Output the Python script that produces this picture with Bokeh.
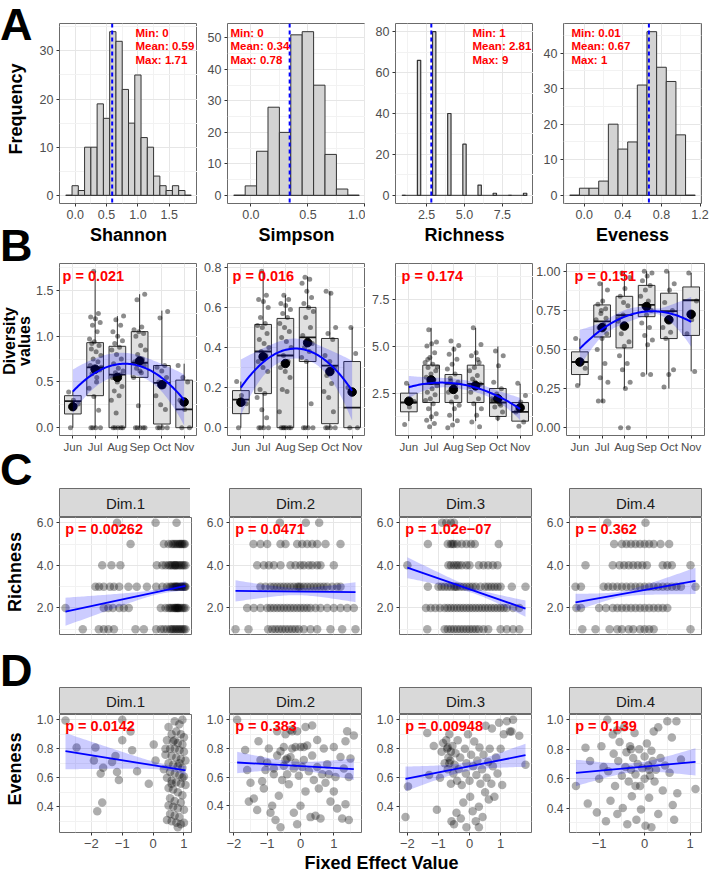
import numpy as np
from bokeh.plotting import figure
from bokeh.layouts import row, column
from bokeh.models import Range1d, Label, FixedTicker, Span, Div
from bokeh.embed import file_html
from bokeh.resources import INLINE

FONT = "Liberation Sans"
RED = "#ff0000"
BLUE = "#0000ff"
EDGE = "#6b6b6b"
INK = "#333333"
GRID_MAJOR = "#e6e6e6"
GRID_MINOR = "#f2f2f2"
TICK_TEXT = "#4d4d4d"

# ---------------------------------------------------------------------------
# A - histograms of the four diversity indices
# ---------------------------------------------------------------------------
hist_titles = ["Shannon", "Simpson", "Richness", "Eveness"]

shannon_mids = [-0.1, 0.0, 0.1, 0.2, 0.3, 0.4, 0.5, 0.6, 0.7, 0.8, 0.9,
                1.0, 1.1, 1.2, 1.3, 1.4, 1.5, 1.6, 1.7, 1.8]
shannon_counts = [0, 2, 1, 10, 10, 19, 16, 34, 32, 22, 15, 25, 12, 10, 4, 2, 1, 2, 1, 0]

simpson_mids = [-0.1, 0.0, 0.1, 0.2, 0.3, 0.4, 0.5, 0.6, 0.7, 0.8, 0.9]
simpson_counts = [0, 3, 14, 28, 20, 51, 52, 35, 13, 2, 0]

richness_mids = [1, 2, 3, 4, 5, 6, 7, 8, 9]
richness_counts = [0, 66, 80, 40, 25, 5, 1, 0, 1]

eveness_mids = [-0.1, 0.0, 0.1, 0.2, 0.3, 0.4, 0.5, 0.6, 0.7, 0.8, 0.9, 1.0, 1.1]
eveness_counts = [0, 2, 2, 4, 20, 13, 15, 31, 46, 36, 32, 17, 0]

hist_binwidth = [0.1, 0.1, 0.22, 0.1]
stat_min = [0, 0, 1, 0.01]
stat_mean = [0.59, 0.34, 2.81, 0.67]
stat_max = [1.71, 0.78, 9, 1]

hist_xticks = [[0.0, 0.5, 1.0, 1.5], [0.0, 0.5, 1.0], [2.5, 5.0, 7.5], [0.0, 0.4, 0.8, 1.2]]
hist_yticks = [[0, 10, 20, 30], [0, 10, 20, 30, 40, 50], [0, 20, 40, 60, 80], [0, 10, 20, 30, 40]]

# ---------------------------------------------------------------------------
# B - monthly diversity values (box summaries, sample values, quadratic fit)
# ---------------------------------------------------------------------------
months = ["Jun", "Jul", "Aug", "Sep", "Oct", "Nov"]
div_p = ["p = 0.021", "p = 0.016", "p = 0.174", "p = 0.151"]
div_yrange = [(-0.0855, 1.7955), (-0.039, 0.819), (0.23, 9.45), (-0.05, 1.05)]
div_yticks = [[0, 0.5, 1.0, 1.5], [0, 0.2, 0.4, 0.6, 0.8], [2.5, 5.0, 7.5], [0, 0.25, 0.5, 0.75, 1.0]]
div_ydigits = [1, 1, 1, 2]

shannon_box = dict(lo=[0, 0, 0, 0, 0, 0],
                   q1=[0.15, 0.35, 0.0, 0.55, 0.04, 0.0],
                   med=[0.29, 0.66, 0.58, 0.71, 0.49, 0.20],
                   q3=[0.35, 0.93, 0.89, 1.05, 0.68, 0.52],
                   hi=[0.40, 1.71, 1.22, 1.46, 1.28, 0.70],
                   mean=[0.23, 0.64, 0.55, 0.73, 0.47, 0.28])
simpson_box = dict(lo=[0, 0, 0, 0, 0, 0],
                   q1=[0.07, 0.17, 0.0, 0.33, 0.02, 0.0],
                   med=[0.14, 0.38, 0.36, 0.45, 0.31, 0.10],
                   q3=[0.185, 0.515, 0.545, 0.60, 0.445, 0.33],
                   hi=[0.23, 0.78, 0.66, 0.755, 0.68, 0.50],
                   mean=[0.127, 0.354, 0.32, 0.424, 0.28, 0.178])
richness_box = dict(lo=[1, 1, 1, 1, 1, 1],
                    q1=[1.5, 2, 2, 2, 1.25, 1],
                    med=[2, 3, 3, 3, 2, 1.5],
                    q3=[2.5, 4, 3.5, 4, 2.75, 2],
                    hi=[3, 6, 5, 6, 5, 3],
                    mean=[2.07, 3.21, 2.7, 2.9, 2.2, 1.72])
eveness_box = dict(lo=[0.27, 0.16, 0.25, 0.34, 0.25, 0.36],
                   q1=[0.34, 0.58, 0.51, 0.71, 0.57, 0.59],
                   med=[0.42, 0.68, 0.72, 0.785, 0.745, 0.815],
                   q3=[0.485, 0.785, 0.84, 0.91, 0.86, 0.90],
                   hi=[0.57, 0.93, 1.0, 1.0, 1.0, 0.99],
                   mean=[0.42, 0.64, 0.65, 0.775, 0.69, 0.725])

shannon_fit = [0.40, 0.61, 0.66, 0.67, 0.59, 0.28]
shannon_ci = [0.24, 0.16, 0.12, 0.12, 0.15, 0.28]
simpson_fit = [0.20, 0.33, 0.38, 0.385, 0.325, 0.18]
simpson_ci = [0.14, 0.07, 0.05, 0.05, 0.07, 0.15]
richness_fit = [2.82, 3.03, 3.05, 2.82, 2.29, 1.67]
richness_ci = [0.6, 0.3, 0.25, 0.25, 0.3, 0.6]
eveness_fit = [0.50, 0.64, 0.71, 0.737, 0.73, 0.68]
eveness_ci = [0.12, 0.05, 0.035, 0.035, 0.045, 0.16]

shannon_obs = [
    [0.0, 0.26, 0.30, 0.39],
    [0, 0, 0, 0, 0.19, 0.34, 0.43, 0.55, 0.59, 0.63, 0.64, 0.68, 0.72, 0.75, 0.79, 0.83, 0.86,
     0.90, 0.94, 0.97, 1.05, 1.12, 1.15, 1.19, 1.21, 1.25, 1.71, 0.66, 0.50, 0.92],
    [0, 0, 0, 0, 0, 0.16, 0.30, 0.35, 0.40, 0.45, 0.50, 0.55, 0.58, 0.60, 0.62, 0.65, 0.70,
     0.75, 0.80, 0.85, 0.88, 0.92, 0.95, 1.0, 1.05, 1.12, 1.18, 1.22],
    [0, 0, 0, 0, 0, 0.24, 0.55, 0.60, 0.65, 0.68, 0.70, 0.72, 0.75, 0.80, 0.85, 0.90, 1.0,
     1.03, 1.05, 1.07, 1.10, 1.40, 1.46, 0.62],
    [0, 0, 0, 0, 0.20, 0.25, 0.35, 0.45, 0.50, 0.55, 0.62, 0.66, 0.68, 1.20, 1.27],
    [0, 0, 0.20, 0.30, 0.50, 0.55, 0.68],
]
simpson_obs = [
    [0.0, 0.12, 0.16, 0.23],
    [0, 0, 0, 0, 0.05, 0.09, 0.15, 0.17, 0.19, 0.28, 0.30, 0.33, 0.36, 0.38, 0.40, 0.42, 0.44,
     0.47, 0.50, 0.51, 0.52, 0.55, 0.60, 0.63, 0.64, 0.66, 0.78],
    [0, 0, 0, 0, 0, 0, 0.08, 0.18, 0.19, 0.25, 0.28, 0.30, 0.33, 0.36, 0.40, 0.43, 0.45, 0.48,
     0.50, 0.52, 0.55, 0.57, 0.59, 0.61, 0.62, 0.64, 0.66],
    [0, 0, 0, 0, 0.12, 0.33, 0.35, 0.38, 0.40, 0.42, 0.44, 0.46, 0.50, 0.55, 0.58, 0.60, 0.62,
     0.65, 0.68, 0.72, 0.74, 0.75],
    [0, 0, 0, 0, 0.08, 0.15, 0.18, 0.22, 0.26, 0.30, 0.33, 0.36, 0.44, 0.47, 0.50, 0.67, 0.68],
    [0, 0, 0.18, 0.20, 0.37, 0.50],
]
richness_obs = [
    [3.03, 2.05, 1.76, 0.82],
    [5.9, 5.24, 5.15, 5.03, 4.67, 4.41, 4.14, 4.05, 3.88, 3.7, 3.52, 3.35, 3.22, 3.08, 2.9, 2.73,
     2.55, 2.41, 2.2, 2.1, 1.93, 1.67, 1.4, 1.23, 1.05, 0.87, 0.7, 3.9, 3.1, 4.3],
    [5.29, 5.06, 4.85, 4.58, 4.32, 4.05, 3.79, 3.52, 3.3, 3.08, 2.82, 2.55, 2.29, 2.02, 1.85,
     1.67, 1.32, 1.02, 0.79, 0.65, 2.9, 3.15],
    [6.0, 5.11, 4.67, 4.5, 4.14, 3.88, 3.7, 3.44, 3.26, 2.99, 2.76, 2.55, 2.2, 1.93, 1.67, 1.32,
     0.96, 0.7, 3.1, 2.85, 4.3],
    [4.76, 4.5, 3.97, 3.08, 2.73, 2.46, 2.2, 1.93, 1.76, 1.49, 1.17, 2.1, 1.85],
    [3.03, 2.38, 2.02, 1.49, 0.96, 0.73],
]
eveness_obs = [
    [0.27, 0.38, 0.42, 0.57],
    [0.92, 0.88, 0.81, 0.79, 0.76, 0.73, 0.69, 0.66, 0.64, 0.60, 0.57, 0.50, 0.41, 0.32, 0.29,
     0.17, 0.17, 0.70, 0.75],
    [0.99, 0.96, 0.89, 0.84, 0.78, 0.72, 0.68, 0.65, 0.60, 0.55, 0.52, 0.46, 0.41, 0.37, 0.29,
     0.25, 0.0, 0.0, 0.80, 0.70],
    [1.0, 0.99, 0.97, 0.94, 0.91, 0.88, 0.84, 0.81, 0.78, 0.75, 0.72, 0.67, 0.64, 0.59, 0.56,
     0.53, 0.34, 0.34],
    [1.0, 0.92, 0.88, 0.80, 0.75, 0.69, 0.64, 0.61, 0.57, 0.37, 0.34, 0.26],
    [0.99, 0.81, 0.69, 0.60, 0.36],
]

# ---------------------------------------------------------------------------
# C / D - richness and eveness against the fixed-effect dimensions
# ---------------------------------------------------------------------------
dim_names = ["Dim.1", "Dim.2", "Dim.3", "Dim.4"]

rich_dim1 = {
    6: [-1.17, 0.08, 0.76],
    5: [-0.73, 0.35, 0.5, 0.6, 0.65, 0.7, 0.75, 0.8, 0.85, 0.88, 0.92, 0.95, 1.0, 1.03],
    4: [-1.65, -1.35, -1.06, 0.12, 0.3, 0.4, 0.5, 0.55, 0.6, 0.65, 0.7, 0.72, 0.75, 0.8, 0.85,
        0.9, 0.95, 1.0, 1.05],
    3: [-1.87, -1.75, -1.6, -1.4, -1.27, -1.1, -0.8, -0.53, -0.2, 0.1, 0.3, 0.45, 0.55, 0.6,
        0.65, 0.7, 0.72, 0.75, 0.78, 0.8, 0.85, 0.9, 0.92, 0.95, 1.0, 1.03, 1.05],
    2: [-2.84, -1.6, -1.45, -1.3, -1.1, -0.95, -0.79, 0.25, 0.4, 0.5, 0.55, 0.6, 0.65, 0.7,
        0.72, 0.75, 0.78, 0.8, 0.82, 0.85, 0.9, 0.95, 1.0, 1.05],
    1: [-2.28, -1.76, -1.6, -1.45, -1.27, -0.57, -0.3, 0.1, 0.25, 0.35, 0.45, 0.55, 0.6, 0.65,
        0.7, 0.75, 0.8, 0.85, 0.9, 0.95, 1.0, 1.05],
}
rich_dim2 = {
    6: [-0.62, 0.16, 0.56],
    5: [-1.41, -1.2, -1.0, -0.6, -0.45, -0.1, 0.05, 0.2, 0.35, 0.5, 0.75, 1.2],
    4: [-1.3, -1.1, -0.95, -0.8, -0.6, -0.3, -0.15, 0.0, 0.1, 0.25, 0.35, 0.5, 0.6, 1.0],
    3: [-1.2, -1.05, -0.9, -0.8, -0.7, -0.6, -0.5, -0.4, -0.3, -0.2, -0.1, -0.05, 0.0, 0.1,
        0.2, 0.3, 0.4, 0.5, 0.6, 0.7, 0.8, 0.95, 1.1, 1.2],
    2: [-1.6, -1.4, -1.2, -1.0, -0.9, -0.8, -0.7, -0.6, -0.5, -0.4, -0.3, -0.2, -0.1, 0.0, 0.1,
        0.2, 0.3, 0.45, 0.6, 0.8, 1.0, 1.2, 1.4, 1.6],
    1: [-1.95, -1.56, -0.97, -0.85, -0.75, -0.65, -0.55, -0.45, -0.35, -0.25, -0.15, -0.05,
        0.1, 0.3, 0.5, 0.9, 1.25, 1.65],
}
rich_dim3 = {
    6: [-0.88, -0.75, -0.6, -0.5],
    5: [-1.34, -0.7, -0.6, -0.55, -0.5, -0.4, -0.25, -0.1, 0.05, 0.17, 0.94],
    4: [-2.0, -0.68, -0.6, -0.5, -0.42, -0.35, -0.25, -0.1, 0.0, 0.3, 0.45, 0.6, 0.75, 0.9],
    3: [-1.34, -1.0, -0.9, -0.8, -0.7, -0.6, -0.5, -0.45, -0.4, -0.3, -0.2, -0.1, 0.0, 0.1,
        0.2, 0.35, 0.5, 0.6, 0.7, 0.8, 0.9, 1.0, 1.36, 1.8],
    2: [-1.4, -1.25, -1.1, -0.95, -0.8, -0.7, -0.6, -0.5, -0.4, -0.3, -0.2, -0.1, 0.0, 0.1,
        0.2, 0.3, 0.4, 0.5, 0.6, 0.7, 0.8, 0.9, 1.0, 1.1, 1.2, 1.4, 1.6],
    1: [-1.36, -0.8, -0.7, -0.6, -0.5, -0.4, -0.3, -0.2, -0.1, 0.0, 0.1, 0.2, 0.3, 0.45, 0.6,
        1.0, 1.2, 1.4, 1.6],
}
rich_dim4 = {
    6: [-0.82, 0.02],
    5: [-0.67, -0.5, -0.4, -0.3, -0.2, -0.1, 0.0, 0.1, 0.2, 0.35, 0.54],
    4: [-1.3, -0.7, -0.55, -0.45, -0.35, -0.25, -0.15, -0.05, 0.05, 0.4, 0.5, 0.6, 1.01],
    3: [-1.52, -1.4, -0.9, -0.8, -0.7, -0.6, -0.5, -0.4, -0.3, -0.2, -0.1, 0.0, 0.1, 0.2, 0.3,
        0.4, 0.5, 0.6, 0.7, 0.8, 1.12],
    2: [-1.5, -1.4, -1.0, -0.85, -0.7, -0.6, -0.5, -0.4, -0.3, -0.2, -0.1, 0.0, 0.1, 0.2, 0.3,
        0.4, 0.5],
    1: [-1.37, -1.08, -0.77, -0.6, -0.5, -0.35, -0.25, -0.1, 0.0, 0.1, 0.2, 1.01],
}

even_dim1 = [(-2.84, 0.995), (-2.48, 0.81), (-1.87, 0.81), (-1.92, 0.72), (-1.62, 0.67),
             (-1.70, 0.63), (-1.81, 0.37), (-1.65, 0.43), (-1.33, 0.71), (-1.22, 0.75),
             (-1.17, 0.64), (-1.11, 0.585), (-1.0, 1.0), (-1.0, 0.86), (-0.73, 0.92),
             (-0.68, 0.79), (-0.52, 0.645), (-0.14, 0.56), (0.02, 0.83), (0.08, 0.72),
             (0.5, 0.95), (0.7, 0.99), (0.85, 0.97), (0.95, 1.0), (0.6, 0.9), (0.75, 0.92),
             (0.9, 0.9), (1.0, 0.88), (0.45, 0.86), (0.65, 0.85), (0.8, 0.84), (0.95, 0.83),
             (0.55, 0.8), (0.7, 0.8), (0.85, 0.79), (1.0, 0.78), (0.4, 0.76), (0.6, 0.75),
             (0.75, 0.74), (0.9, 0.73), (1.05, 0.72), (0.5, 0.7), (0.65, 0.69), (0.8, 0.68),
             (0.95, 0.67), (0.35, 0.66), (0.55, 0.64), (0.7, 0.63), (0.85, 0.62), (1.0, 0.61),
             (0.45, 0.6), (0.6, 0.58), (0.75, 0.57), (0.9, 0.56), (1.05, 0.55), (0.5, 0.53),
             (0.65, 0.52), (0.8, 0.5), (0.95, 0.48), (0.55, 0.46), (0.7, 0.44), (0.9, 0.43),
             (0.5, 0.41), (0.65, 0.4), (0.8, 0.39), (1.0, 0.38), (0.55, 0.35), (0.7, 0.34),
             (0.85, 0.33), (0.45, 0.31), (0.6, 0.3), (0.75, 0.29), (0.9, 0.28), (0.8, 0.26),
             (1.0, 0.29), (0.6, 0.56), (0.95, 0.6), (0.85, 0.7), (0.7, 0.86), (0.4, 0.8)]
even_dim2 = [(-1.9, 1.0), (-1.66, 0.79), (-1.6, 0.65), (-1.5, 0.56), (-1.55, 0.43),
             (-1.4, 0.45), (-1.3, 0.37), (-1.26, 0.85), (-1.2, 0.72), (-1.15, 0.57),
             (-1.1, 0.52), (-1.05, 0.65), (-1.0, 0.7), (-0.95, 0.8), (-0.9, 0.35), (-0.85, 0.4),
             (-0.8, 0.62), (-0.75, 0.3), (-0.7, 0.75), (-0.7, 0.92), (-0.65, 0.47), (-0.6, 0.78),
             (-0.55, 0.58), (-0.5, 0.68), (-0.5, 0.81), (-0.45, 0.9), (-0.4, 0.62), (-0.4, 0.73),
             (-0.35, 0.55), (-0.3, 0.74), (-0.3, 0.93), (-0.25, 0.8), (-0.2, 0.66), (-0.2, 0.35),
             (-0.15, 0.7), (-0.1, 0.92), (-0.1, 0.27), (-0.05, 0.61), (0.0, 0.81), (0.0, 0.4),
             (0.05, 0.67), (0.1, 0.72), (0.15, 0.95), (0.15, 0.5), (0.2, 0.82), (0.25, 0.64),
             (0.3, 0.32), (0.35, 0.75), (0.4, 0.58), (0.45, 0.33), (0.5, 0.86), (0.5, 0.67),
             (0.55, 0.52), (0.6, 0.31), (0.65, 0.62), (0.7, 0.8), (0.75, 0.56), (0.8, 0.69),
             (0.85, 0.62), (0.9, 0.43), (1.0, 0.81), (1.0, 0.5), (1.05, 0.6), (1.1, 0.38),
             (1.2, 0.74), (1.25, 0.31), (1.3, 0.66), (1.35, 0.85), (1.4, 0.92), (1.45, 0.6),
             (1.5, 0.73), (1.6, 0.89), (1.45, 0.3), (1.35, 0.41), (0.35, 0.96), (-0.6, 0.25),
             (-0.25, 0.92), (-0.15, 0.81), (0.1, 0.81), (-0.45, 0.72), (-0.8, 0.66)]
even_dim3 = [(-2.06, 0.33), (-1.98, 0.54), (-1.36, 0.91), (-1.3, 0.62), (-1.15, 0.82),
             (-1.05, 0.38), (-0.95, 0.6), (-0.9, 0.78), (-0.85, 0.84), (-0.8, 0.7),
             (-0.75, 0.86), (-0.72, 0.8), (-0.7, 0.66), (-0.68, 0.74), (-0.65, 0.9),
             (-0.62, 0.72), (-0.6, 0.56), (-0.58, 0.3), (-0.55, 0.82), (-0.52, 0.63),
             (-0.5, 0.28), (-0.48, 0.69), (-0.45, 0.77), (-0.42, 0.36), (-0.4, 0.58),
             (-0.38, 0.86), (-0.35, 0.66), (-0.3, 0.74), (-0.28, 0.32), (-0.25, 0.55),
             (-0.2, 0.43), (-0.15, 0.8), (-0.12, 0.63), (-0.1, 0.7), (-0.05, 0.9), (0.0, 0.58),
             (0.02, 0.47), (0.05, 0.76), (0.1, 0.37), (0.12, 0.68), (0.15, 0.85), (0.2, 0.3),
             (0.22, 0.62), (0.25, 0.72), (0.3, 0.4), (0.32, 0.81), (0.35, 0.56), (0.4, 0.66),
             (0.42, 0.33), (0.45, 0.76), (0.5, 0.5), (0.52, 0.96), (0.55, 0.6), (0.6, 0.71),
             (0.62, 0.45), (0.65, 0.8), (0.7, 0.56), (0.72, 0.94), (0.75, 0.68), (0.8, 0.47),
             (0.85, 0.74), (0.9, 0.63), (0.95, 0.98), (1.0, 0.8), (1.05, 0.55), (1.1, 0.9),
             (1.2, 0.99), (1.3, 0.92), (1.35, 0.92), (1.4, 1.0), (1.6, 0.89), (1.8, 0.69),
             (-0.1, 0.26), (0.3, 0.26), (-0.7, 0.81), (-0.65, 0.7), (-0.6, 0.78)]
even_dim4 = [(-1.51, 0.55), (-1.3, 0.81), (-1.25, 0.43), (-1.2, 0.72), (-1.05, 0.37),
             (-1.0, 0.6), (-0.95, 0.82), (-0.9, 0.68), (-0.85, 0.31), (-0.82, 1.0), (-0.8, 0.65),
             (-0.75, 0.45), (-0.7, 0.9), (-0.68, 0.77), (-0.65, 0.55), (-0.6, 0.36),
             (-0.58, 0.72), (-0.55, 0.85), (-0.5, 0.62), (-0.48, 0.4), (-0.45, 0.95),
             (-0.42, 0.68), (-0.4, 0.78), (-0.38, 0.29), (-0.35, 0.58), (-0.32, 0.82),
             (-0.3, 0.66), (-0.28, 0.48), (-0.25, 0.74), (-0.22, 0.91), (-0.2, 0.63),
             (-0.18, 0.32), (-0.15, 0.7), (-0.12, 0.8), (-0.1, 0.55), (-0.08, 0.39),
             (-0.05, 0.67), (0.0, 0.75), (0.0, 0.6), (0.02, 0.28), (0.05, 0.84), (0.08, 0.69),
             (0.1, 0.47), (0.12, 0.62), (0.15, 0.79), (0.18, 0.72), (0.2, 0.92), (0.22, 0.58),
             (0.25, 0.66), (0.3, 0.36), (0.35, 0.74), (0.4, 0.52), (0.45, 0.69), (0.5, 0.99),
             (0.55, 0.64), (0.6, 0.88), (0.62, 0.42), (0.65, 0.32), (0.7, 0.99), (0.72, 0.5),
             (0.8, 0.73), (1.12, 0.53), (0.3, 0.95), (-0.6, 0.93), (0.15, 0.27),
             (-0.3, 0.8), (-0.2, 0.55), (0.1, 0.66)]

# fitted value at the left / right end of each regression line
rich_fit_ends = [(1.82, 3.04), (2.80, 2.74), (3.89, 1.97), (2.26, 3.27)]
even_fit_ends = [(0.784, 0.651), (0.702, 0.655), (0.593, 0.756), (0.639, 0.714)]
# confidence half-width at the left end, at its narrowest, at the right end
rich_ci = [(0.66, 0.12, 0.22), (0.50, 0.17, 0.47), (0.49, 0.13, 0.38), (0.40, 0.13, 0.62)]
even_ci = [(0.125, 0.02, 0.03), (0.075, 0.03, 0.075), (0.085, 0.03, 0.08), (0.09, 0.03, 0.093)]
rich_p = ["p = 0.00262", "p = 0.0471", "p = 1.02e\u221207", "p = 0.362"]
even_p = ["p = 0.0142", "p = 0.383", "p = 0.00948", "p = 0.139"]
dim_xticks = [[-2, -1, 0, 1], [-2, -1, 0, 1], [-2, -1, 0, 1], [-1, 0, 1]]


# ---------------------------------------------------------------------------
# helpers
# ---------------------------------------------------------------------------
def panel(fw, fh, bl, br, bt, bb, xr, yr, axes=True):
    kw = {} if axes else dict(x_axis_location=None, y_axis_location=None)
    p = figure(frame_width=fw, frame_height=fh, min_border_left=bl, min_border_right=br,
               min_border_top=bt, min_border_bottom=bb, x_range=Range1d(*xr),
               y_range=Range1d(*yr), toolbar_location=None, tools="",
               output_backend="svg", title=None, **kw)
    p.outline_line_color = EDGE
    p.outline_line_width = 1
    p.border_fill_color = "white"
    p.background_fill_color = "white"
    if not axes:
        p.grid.visible = False
    return p


def gutter(w, h, items):
    """HTML strip down the left edge holding panel letters and rotated axis titles.
    items: (kind, x, y, text) with x/y in pixels from the strip's top-left."""
    parts = []
    for kind, x, y, text in items:
        if kind == "letter":
            # y is the text baseline
            parts.append(
                f"<div style='position:absolute;left:{x}px;top:{y - 40.7:.1f}px;"
                f"font-family:\"{FONT}\";font-weight:bold;font-size:45px;"
                f"line-height:normal;color:black;white-space:nowrap'>{text}</div>")
        else:
            size, lh = kind
            parts.append(
                f"<div style='position:absolute;left:{x}px;top:{y}px;"
                f"transform:translate(-50%,-50%) rotate(-90deg);"
                f"font-family:\"{FONT}\";font-weight:bold;font-size:{size}px;"
                f"line-height:{lh};color:black;white-space:nowrap;text-align:center'>"
                f"{text}</div>")
    html = (f"<div style='position:relative;width:{w}px;height:{h}px;overflow:hidden;"
            f"background:white'>" + "".join(parts) + "</div>")
    return Div(text=html, width=w, height=h, margin=(0, 0, 0, 0))


def minor_between(ticks, lo, hi):
    step = ticks[1] - ticks[0]
    cands = [ticks[0] - step / 2] + [t + step / 2 for t in ticks]
    return [m for m in cands if lo < m < hi]


def style_axis(p, dim, ticks, labels, minor=True, size="12.5px"):
    axis = p.xaxis[0] if dim == "x" else p.yaxis[0]
    grid = p.xgrid[0] if dim == "x" else p.ygrid[0]
    rng = p.x_range if dim == "x" else p.y_range
    mt = minor_between(ticks, rng.start, rng.end) if minor else []
    tk = FixedTicker(ticks=[float(t) for t in ticks], minor_ticks=mt)
    axis.ticker = tk
    grid.ticker = tk
    axis.major_label_overrides = {float(t): s for t, s in zip(ticks, labels)}
    axis.axis_line_color = None
    axis.major_tick_line_color = INK
    axis.major_tick_out = 3
    axis.major_tick_in = 0
    axis.minor_tick_line_color = None
    axis.major_label_standoff = 2
    axis.major_label_text_font = FONT
    axis.major_label_text_font_size = size
    axis.major_label_text_color = TICK_TEXT
    grid.grid_line_color = GRID_MAJOR
    grid.minor_grid_line_color = GRID_MINOR


def place(p, fx, fy, text, **kw):
    """Label positioned in pixels measured from the frame's top-left corner."""
    xr, yr = p.x_range, p.y_range
    x = xr.start + fx / p.frame_width * (xr.end - xr.start)
    y = yr.end - fy / p.frame_height * (yr.end - yr.start)
    kw.setdefault("text_font", FONT)
    p.add_layout(Label(x=x, y=y, text=text, **kw))


def ci_halfwidth(xl, xr, hl, h0, hr, xs):
    r = np.sqrt((hl ** 2 - h0 ** 2) / max(hr ** 2 - h0 ** 2, 1e-9))
    xc = (xl + r * xr) / (1 + r)
    k = (hl ** 2 - h0 ** 2) / max((xl - xc) ** 2, 1e-9)
    return np.sqrt(h0 ** 2 + k * (xs - xc) ** 2)


def jitter(n, spread=0.28):
    return np.array([((k * 0.618034 + 0.31) % 1.0 - 0.5) * 2 * spread for k in range(n)])


# ---------------------------------------------------------------------------
# row A
# ---------------------------------------------------------------------------
GUT = 33
AB_LEFT = [26, 30, 30, 30]
AB_RIGHT = [0, 0, 0, 8]
FW_AB = 138
stat_fx = [76, 3, 77, 8]
H_A, H_B, H_C, H_D = 262, 225, 199, 166

hist_sets = [(shannon_mids, shannon_counts), (simpson_mids, simpson_counts),
             (richness_mids, richness_counts), (eveness_mids, eveness_counts)]
row_a = []
for i, (mids, counts) in enumerate(hist_sets):
    mids = np.asarray(mids, float)
    counts = np.asarray(counts, float)
    w = hist_binwidth[i]
    left, right = mids - w / 2, mids + w / 2
    lo, hi = left.min(), right.max()
    if i == 2:
        # the 30-bin grid spans a little wider than the integer-centred bars
        lo, hi = mids.min() - 0.14, mids.max() + 0.14
    pad = 0.05 * (hi - lo)
    top = counts.max()
    p = panel(FW_AB, 180, AB_LEFT[i], AB_RIGHT[i], 23, 59,
              (lo - pad, hi + pad), (-0.05 * top, 1.05 * top))
    style_axis(p, "x", hist_xticks[i], [f"{t:.1f}" for t in hist_xticks[i]])
    style_axis(p, "y", hist_yticks[i], [str(t) for t in hist_yticks[i]])
    p.segment(x0=[lo], y0=[0], x1=[hi], y1=[0], line_color=INK, line_width=1)
    p.quad(left=left, right=right, bottom=np.zeros_like(counts), top=counts,
           fill_color="#d3d3d3", line_color=INK, line_width=1.2 if i == 2 else 1)
    p.add_layout(Span(location=stat_mean[i], dimension="height", line_color=BLUE,
                      line_dash="4 3", line_width=2))
    place(p, stat_fx[i], 3,
          f"Min: {stat_min[i]:g}\nMean: {stat_mean[i]:g}\nMax: {stat_max[i]:g}",
          text_color=RED, text_font_style="bold", text_font_size="11.5px",
          text_baseline="top", text_line_height=1.15)
    xa = p.xaxis[0]
    xa.axis_label = hist_titles[i]
    xa.axis_label_text_font = FONT
    xa.axis_label_text_font_style = "bold"
    xa.axis_label_text_font_size = "18px"
    xa.axis_label_text_color = "black"
    xa.axis_label_standoff = 3
    row_a.append(p)

# ---------------------------------------------------------------------------
# row B
# ---------------------------------------------------------------------------
mpos = np.arange(1, 7, dtype=float)
boxes = [shannon_box, simpson_box, richness_box, eveness_box]
fits = [(shannon_fit, shannon_ci), (simpson_fit, simpson_ci),
        (richness_fit, richness_ci), (eveness_fit, eveness_ci)]
obs = [shannon_obs, simpson_obs, richness_obs, eveness_obs]
p_fx_b = [3, 5, 6, 8]
xs_smooth = np.linspace(1, 6, 80)

row_b = []
for i in range(4):
    p = panel(FW_AB, 172, AB_LEFT[i], AB_RIGHT[i], 1, 52, (0.4, 6.6), div_yrange[i])
    style_axis(p, "x", list(mpos), months, minor=False, size="11.5px")
    d = div_ydigits[i]
    style_axis(p, "y", div_yticks[i], [f"{t:.{d}f}" for t in div_yticks[i]])
    b = boxes[i]
    p.segment(x0=mpos, y0=b["q3"], x1=mpos, y1=b["hi"], line_color=INK, line_width=1)
    p.segment(x0=mpos, y0=b["q1"], x1=mpos, y1=b["lo"], line_color=INK, line_width=1)
    p.vbar(x=mpos, width=0.75, bottom=b["q1"], top=b["q3"], fill_color="#e0e0e0",
           line_color=INK, line_width=1)
    p.segment(x0=mpos - 0.375, y0=b["med"], x1=mpos + 0.375, y1=b["med"],
              line_color="#1a1a1a", line_width=1.8)
    for m, vals in enumerate(obs[i]):
        vals = np.asarray(vals, float)
        p.scatter(x=mpos[m] + jitter(len(vals)), y=vals, size=5, fill_color="black",
                  fill_alpha=0.45, line_color=None)
    p.scatter(x=mpos, y=b["mean"], size=8.5, fill_color="black", line_color="black")
    fit, ci = fits[i]
    yf = np.polyval(np.polyfit(mpos, fit, 2), xs_smooth)
    hh = np.sqrt(np.clip(np.polyval(np.polyfit(mpos, np.square(ci), 4), xs_smooth), 1e-6, None))
    p.varea(x=xs_smooth, y1=yf - hh, y2=yf + hh, fill_color=BLUE, fill_alpha=0.2)
    p.line(xs_smooth, yf, line_color=BLUE, line_width=2)
    place(p, p_fx_b[i], 12, div_p[i], text_color=RED, text_font_style="bold",
          text_font_size="14.5px", text_baseline="middle")
    row_b.append(p)

# ---------------------------------------------------------------------------
# rows C and D
# ---------------------------------------------------------------------------
CD_LEFT = [23, 36, 36, 36]
CD_RIGHT = [2, 2, 2, 11]
FW_CD = 132
CD_TICK = "12px"

rich_sets = [rich_dim1, rich_dim2, rich_dim3, rich_dim4]
even_sets = [even_dim1, even_dim2, even_dim3, even_dim4]


def strip(label, i, top, fh):
    s = panel(FW_CD, fh, CD_LEFT[i], CD_RIGHT[i], top, 0, (0, 1), (0, 1), axes=False)
    s.background_fill_color = "#d9d9d9"
    s.add_layout(Label(x=0.5, y=0.5, text=label, text_align="center",
                       text_baseline="middle", text_font=FONT, text_font_size="15px",
                       text_color="#1a1a1a"))
    return s


def scatter_panel(i, xs, ys, fh, bottom, xr, yr, fit_ends, ci, ptxt, show_x):
    p = panel(FW_CD, fh, CD_LEFT[i], CD_RIGHT[i], 0, bottom, xr, yr)
    style_axis(p, "x", dim_xticks[i], [str(t).replace("-", "\u2212") for t in dim_xticks[i]],
               size="13px")
    if not show_x:
        p.xaxis.visible = False
    p.scatter(x=xs, y=ys, size=8.5, fill_color="black", fill_alpha=0.32, line_color=None)
    xl, xrr = float(np.min(xs)), float(np.max(xs))
    xx = np.linspace(xl, xrr, 60)
    yy = fit_ends[0] + (fit_ends[1] - fit_ends[0]) * (xx - xl) / (xrr - xl)
    hh = ci_halfwidth(xl, xrr, ci[0], ci[1], ci[2], xx)
    p.varea(x=xx, y1=yy - hh, y2=yy + hh, fill_color=BLUE, fill_alpha=0.2)
    p.line(x=[xl, xrr], y=[fit_ends[0], fit_ends[1]], line_color=BLUE, line_width=1.8)
    place(p, 5.7, 11, ptxt, text_color=RED, text_font_style="bold",
          text_font_size="14.5px", text_baseline="middle")
    return p


cols_c, cols_d = [], []
for i in range(4):
    rx = np.array([x for lvl in rich_sets[i] for x in rich_sets[i][lvl]], float)
    ry = np.array([lvl for lvl in rich_sets[i] for _ in rich_sets[i][lvl]], float)
    ex = np.array([pt[0] for pt in even_sets[i]], float)
    ey = np.array([pt[1] for pt in even_sets[i]], float)
    allx = np.concatenate([rx, ex])
    xlo, xhi = allx.min(), allx.max()
    xpad = 0.05 * (xhi - xlo)
    xr = (xlo - xpad, xhi + xpad)

    ylo, yhi = ry.min(), ry.max()
    pc = scatter_panel(i, rx, ry, 117, 52, xr,
                       (ylo - 0.05 * (yhi - ylo), yhi + 0.05 * (yhi - ylo)),
                       rich_fit_ends[i], rich_ci[i], rich_p[i], False)
    style_axis(pc, "y", [2, 4, 6], ["2.0", "4.0", "6.0"], size=CD_TICK)
    cols_c.append(column(strip(dim_names[i], i, 1, 29), pc))

    ylo, yhi = ey.min(), ey.max()
    pd_ = scatter_panel(i, ex, ey, 118, 20, xr,
                        (ylo - 0.05 * (yhi - ylo), yhi + 0.05 * (yhi - ylo)),
                        even_fit_ends[i], even_ci[i], even_p[i], True)
    style_axis(pd_, "y", [0.4, 0.6, 0.8, 1.0], ["0.4", "0.6", "0.8", "1.0"], size=CD_TICK)
    cols_d.append(column(strip(dim_names[i], i, 1, 27), pd_))

# one strip down the left edge for the panel letters and the row titles
side = gutter(GUT, H_A + H_B + H_C + H_D, [
    ("letter", 0, 40, "A"),
    ("letter", 0, 261, "B"),
    ("letter", 0, 485, "C"),
    ("letter", 0, 686, "D"),
    ((18, 1.0), 16, 109, "Frequency"),
    ((16, 0.95), 16.5, 341, "Diversity<br>values"),
    ((18, 1.0), 15, 572, "Richness"),
    ((18, 1.0), 15, 769, "Eveness"),
])

# shared x title under the last row
foot = panel(709, 20, 0, 0, 0, 0, (0, 709), (0, 20), axes=False)
foot.outline_line_color = None
foot.add_layout(Label(x=381, y=10, text="Fixed Effect Value", text_align="center",
                      text_baseline="middle", text_font=FONT, text_font_size="18px",
                      text_font_style="bold", text_color="black"))

panels = column(row(*row_a), row(*row_b), row(*cols_c), row(*cols_d))
layout = column(row(side, panels), foot)
open("out.html", "w").write(file_html(layout, INLINE))
